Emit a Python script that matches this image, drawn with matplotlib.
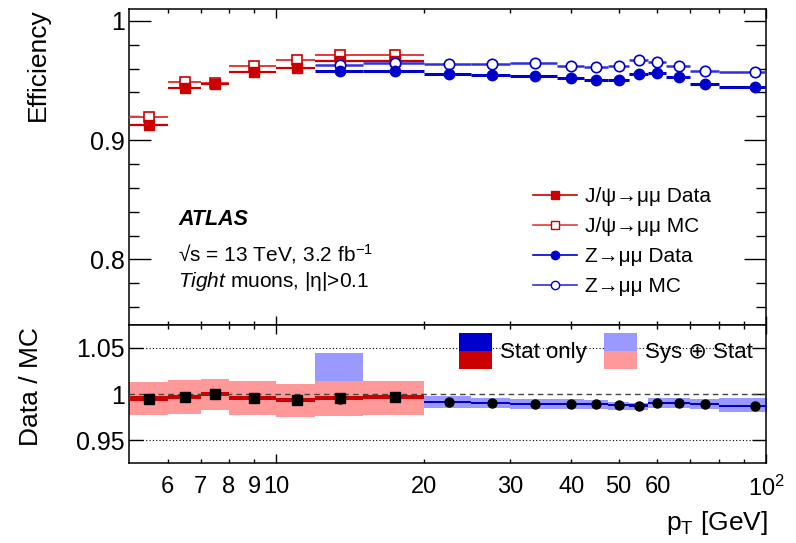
import numpy as np
import matplotlib.pyplot as plt
import matplotlib.ticker as ticker
from matplotlib.lines import Line2D
from matplotlib.patches import Rectangle

plt.rcParams['font.family'] = ['Liberation Sans', 'DejaVu Sans']
plt.rcParams['mathtext.fontset'] = 'custom'
plt.rcParams['mathtext.rm'] = 'Liberation Sans'
plt.rcParams['mathtext.it'] = 'Liberation Sans:italic'
plt.rcParams['mathtext.bf'] = 'Liberation Sans:bold'

# ---- J/psi -> mumu bins
jpsi_edges = [5, 6, 7, 8, 10, 12, 15, 20]
jpsi_pt = [5.5, 6.5, 7.5, 9, 11, 13.5, 17.5]
jpsi_data = [0.913, 0.9437, 0.9473, 0.957, 0.9604, 0.966, 0.9665]
jpsi_mc = [0.9194, 0.9487, 0.9478, 0.9626, 0.9674, 0.9715, 0.9715]
jpsi_ratio = [0.995, 0.9968, 1.000, 0.9957, 0.9931, 0.9957, 0.9968]
jpsi_stat = [0.0025, 0.0022, 0.0022, 0.0022, 0.0022, 0.0022, 0.0022]
jpsi_sys_lo = [0.977, 0.9788, 0.9824, 0.9777, 0.9745, 0.9763, 0.9777]
jpsi_sys_hi = [1.0129, 1.0154, 1.0165, 1.0136, 1.0111, 1.0136, 1.0136]

# ---- Z -> mumu bins
z_edges = [12, 15, 20, 25, 30, 37.5, 42.5, 47.5, 52.5, 57.5, 62.5, 70, 80, 110]
z_pt = [13.5, 17.5, 22.5, 27.5, 33.75, 40, 45, 50, 55, 60, 66.25, 75, 95]
z_data = [0.9584, 0.9584, 0.9554, 0.9543, 0.954, 0.952, 0.9506, 0.9506,
          0.9551, 0.9562, 0.9526, 0.9473, 0.9445]
z_mc = [0.9632, 0.9646, 0.964, 0.964, 0.9646, 0.9621, 0.961, 0.9621,
        0.9671, 0.9654, 0.9623, 0.9579, 0.957]
z_ratio = [0.995, 0.9965, 0.9914, 0.9903, 0.9892, 0.9892, 0.9889, 0.9882,
           0.9874, 0.9906, 0.9899, 0.9892, 0.9871]
z_stat = [0.001, 0.001, 0.0012, 0.0012, 0.0012, 0.0012, 0.0012, 0.0012,
          0.0012, 0.0012, 0.0012, 0.0012, 0.0012]
z_sys_lo = [0.985, 0.987, 0.9849, 0.9849, 0.9842, 0.9842, 0.9842, 0.9831,
            0.9824, 0.9853, 0.9849, 0.9842, 0.9799]
z_sys_hi = [1.0444, 1.003, 0.9978, 0.9957, 0.9942, 0.9942, 0.9932, 0.9914,
            0.9906, 0.9957, 0.9957, 0.9942, 0.9957]

RED, RED_MC = '#cc0000', '#e23c3c'
BLUE, BLUE_MC = '#0000cc', '#3030dd'

fig = plt.figure(figsize=(7.96, 5.43), dpi=100)
ax = fig.add_axes([0.1621, 0.4015, 0.8003, 0.5819])
axr = fig.add_axes([0.1621, 0.1473, 0.8003, 0.2542], sharex=ax)


def xerr(edges, pt):
    e = np.asarray(edges, float)
    p = np.asarray(pt, float)
    return [p - e[:-1], e[1:] - p]


# -- top panel
ax.errorbar(jpsi_pt, jpsi_mc, xerr=xerr(jpsi_edges, jpsi_pt), fmt='s', color=RED_MC,
            mfc='white', mec=RED, mew=1.2, ms=7, lw=1.4, capsize=0, zorder=3)
ax.errorbar(jpsi_pt, jpsi_data, xerr=xerr(jpsi_edges, jpsi_pt), fmt='s', color=RED,
            ms=7, lw=1.6, capsize=0, zorder=4)
ax.errorbar(z_pt, z_mc, xerr=xerr(z_edges, z_pt), fmt='o', color=BLUE_MC,
            mfc='white', mec=BLUE, mew=1.2, ms=7.5, lw=1.8, capsize=0, zorder=5)
ax.errorbar(z_pt, z_data, xerr=xerr(z_edges, z_pt), fmt='o', color=BLUE,
            ms=7.5, lw=2.2, capsize=0, zorder=6)

ax.set_ylim(0.745, 1.01)
ax.yaxis.set_major_locator(ticker.MultipleLocator(0.1))
ax.yaxis.set_minor_locator(ticker.MultipleLocator(0.02))
ax.yaxis.set_major_formatter(ticker.FuncFormatter(lambda v, p: '%g' % round(v, 3)))
ax.tick_params(axis='y', which='major', length=16)
ax.tick_params(axis='y', which='minor', length=7)

handles = [
    Line2D([], [], color=RED, marker='s', ms=6, lw=1.2),
    Line2D([], [], color=RED_MC, marker='s', ms=6, mfc='white', mec=RED, lw=1.2),
    Line2D([], [], color=BLUE, marker='o', ms=6, lw=1.2),
    Line2D([], [], color=BLUE_MC, marker='o', ms=6, mfc='white', mec=BLUE, lw=1.2),
]
labels = ['J/ψ→μμ Data', 'J/ψ→μμ MC', 'Z→μμ Data', 'Z→μμ MC']
ax.legend(handles, labels, loc='upper left', bbox_to_anchor=(0.634, 0.437),
          frameon=False, fontsize=15, handlelength=2.1, handletextpad=0.4,
          labelspacing=0.53, borderpad=0, borderaxespad=0)

ax.text(0.077, 0.317, 'ATLAS', transform=ax.transAxes, fontsize=15.5,
        fontweight='bold', fontstyle='italic', va='baseline')
ax.text(0.077, 0.203, '√s = 13 TeV, 3.2 fb$^{-1}$', transform=ax.transAxes,
        fontsize=15, va='baseline')
ax.text(0.077, 0.121, r'$\mathit{Tight}$ muons, |η|>0.1', transform=ax.transAxes,
        fontsize=15, va='baseline')


# -- ratio panel
def band(a, edges, lo, hi, color, z):
    lo = np.r_[lo, lo[-1]]
    hi = np.r_[hi, hi[-1]]
    a.fill_between(edges, lo, hi, step='post', color=color, lw=0, zorder=z)


band(axr, z_edges, z_sys_lo, z_sys_hi, '#9999ff', 1)
band(axr, jpsi_edges, jpsi_sys_lo, jpsi_sys_hi, '#ff9999', 2)
zr, zs = np.array(z_ratio), np.array(z_stat)
jr, js = np.array(jpsi_ratio), np.array(jpsi_stat)
band(axr, z_edges, zr - zs, zr + zs, BLUE, 3)
band(axr, jpsi_edges, jr - js, jr + js, RED, 4)

axr.axhline(1.0, ls=(0, (4, 3)), color='#444444', lw=1.0, zorder=5)
axr.axhline(1.05, ls=(0, (1, 2)), color='k', lw=0.8, zorder=0.5)
axr.axhline(0.95, ls=(0, (1, 2)), color='k', lw=0.8, zorder=0.5)

axr.plot(z_pt, z_ratio, 'o', color='k', ms=6.5, zorder=6)
axr.plot(jpsi_pt, jpsi_ratio, 's', color='k', ms=7, zorder=7)

axr.set_ylim(0.925, 1.075)
axr.yaxis.set_major_locator(ticker.FixedLocator([0.95, 1.0, 1.05]))
axr.yaxis.set_minor_locator(ticker.NullLocator())
axr.yaxis.set_major_formatter(ticker.FuncFormatter(lambda v, p: '%g' % round(v, 3)))
axr.tick_params(axis='y', which='major', length=10)

# legend boxes of the ratio panel
for x0, ctop, cbot, txt in [(0.518, BLUE, RED, 'Stat only'),
                            (0.7457, '#9999ff', '#ff9999', 'Sys ⊕ Stat')]:
    axr.add_patch(Rectangle((x0, 0.812), 0.052, 0.13, transform=axr.transAxes,
                            color=ctop, lw=0, zorder=8))
    axr.add_patch(Rectangle((x0, 0.681), 0.052, 0.131, transform=axr.transAxes,
                            color=cbot, lw=0, zorder=8))
    axr.text(x0 + 0.064, 0.80, txt, transform=axr.transAxes, fontsize=16,
             va='center', zorder=9)

# -- shared x axis
for a in (ax, axr):
    a.set_xscale('log')
    a.set_xlim(5, 100)
    a.xaxis.set_major_locator(ticker.FixedLocator([10, 100]))
    a.xaxis.set_minor_locator(ticker.FixedLocator([6, 7, 8, 9, 20, 30, 40, 50, 60, 70, 80, 90]))
    a.tick_params(which='both', direction='in', top=True, right=True, width=1.0)
    a.tick_params(axis='x', which='major', length=6.5)
    a.tick_params(axis='x', which='minor', length=3.2)
    a.tick_params(axis='y', labelsize=18, pad=3)
    for s in a.spines.values():
        s.set_linewidth(1.1)

ax.tick_params(axis='x', which='both', labelbottom=False)
major_lab = {10: '10', 100: '$10^{2}$'}
minor_lab = {6: '6', 7: '7', 8: '8', 9: '9', 20: '20', 30: '30', 40: '40', 50: '50', 60: '60'}
axr.xaxis.set_major_formatter(ticker.FuncFormatter(lambda v, p: major_lab.get(int(round(v)), '')))
axr.xaxis.set_minor_formatter(ticker.FuncFormatter(lambda v, p: minor_lab.get(int(round(v)), '')))
axr.tick_params(axis='x', which='both', labelsize=17, pad=9)

fig.text(38 / 796, 1 - 8 / 543, 'Efficiency', rotation=90, ha='center', va='top', fontsize=19)
fig.text(31 / 796, 1 - 327 / 543, 'Data / MC', rotation=90, ha='center', va='top', fontsize=19)
fig.text(768 / 796, 1 - 530 / 543, 'p$_{\\mathrm{T}}$ [GeV]', ha='right', va='baseline', fontsize=19)

fig.savefig('out.png', dpi=100)
